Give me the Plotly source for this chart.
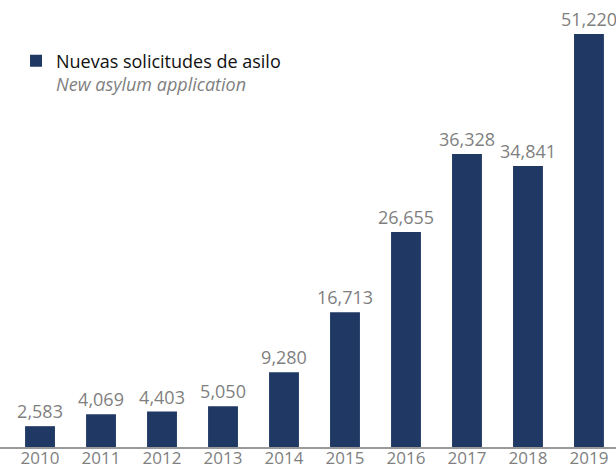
import plotly.graph_objects as go

# Asylum applications per year
years = ["2010", "2011", "2012", "2013", "2014", "2015", "2016", "2017", "2018", "2019"]
applications = [2583, 4069, 4403, 5050, 9280, 16713, 26655, 36328, 34841, 51220]

BAR_COLOR = "#203864"
LABEL_GRAY = "#7f7f7f"
FONT = "Open Sans"

fig = go.Figure()
fig.add_trace(go.Bar(
    x=years,
    y=applications,
    name=("Nuevas solicitudes de asilo<br>"
          "<span style='color:#7f7f7f'><i>New asylum application</i></span>"),
    marker=dict(color=BAR_COLOR, line=dict(width=0)),
    text=[f"{v:,}" for v in applications],
    textposition="outside",
    constraintext="none",
    textfont=dict(family=FONT, size=18, color=LABEL_GRAY),
    cliponaxis=False,
    showlegend=True,
))

fig.update_layout(
    width=616,
    height=471,
    margin=dict(l=0, r=0, t=0, b=24, autoexpand=False),
    paper_bgcolor="white",
    plot_bgcolor="white",
    bargap=0.51,
    font=dict(family=FONT, color="#000000"),
    showlegend=True,
    legend=dict(
        x=0.026, y=0.905, xanchor="left", yanchor="top",
        font=dict(family=FONT, size=18, color="#111111"),
        valign="top",
        bgcolor="rgba(0,0,0,0)",
    ),
    xaxis=dict(
        type="category",
        range=[-0.656, 9.443],
        automargin=False,
        showgrid=False,
        showline=True,
        linecolor="#9a9a9a",
        linewidth=2,
        ticks="",
        ticklabelstandoff=-5,
        tickfont=dict(family=FONT, size=17, color=LABEL_GRAY),
    ),
    yaxis=dict(
        range=[0, 55440],
        visible=False,
        automargin=False,
        showgrid=False,
        zeroline=False,
    ),
)

fig.write_html("out.html")
